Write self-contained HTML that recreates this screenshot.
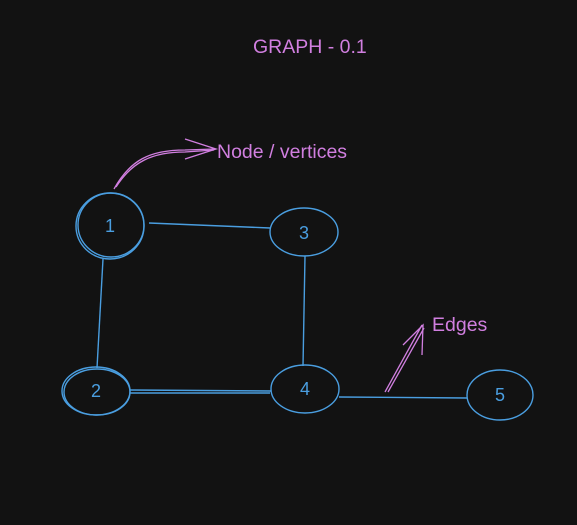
<!DOCTYPE html>
<html><head><style>
html,body{margin:0;padding:0;background:#121212;}
svg{display:block}
text{font-family:"Liberation Sans",sans-serif;}
</style></head><body>
<svg width="577" height="525" viewBox="0 0 577 525">
<rect width="577" height="525" fill="#121212"/>
<text x="253" y="53" fill="#d17fe0" font-size="19.5">GRAPH - 0.1</text>
<text x="217" y="158" fill="#d17fe0" font-size="19.5">Node / vertices</text>
<text x="432" y="331" fill="#d17fe0" font-size="19.5">Edges</text>
<g fill="none" stroke="#d17fe0" stroke-width="1.3">
<path d="M114 189 C130 160,150 150,185 150 L215 149"/>
<path d="M116 187 C132 162,152 152,185 152 L214 150"/>
<path d="M185 139 L216 149 L185 159"/>
<path d="M385 392 L422 325"/>
<path d="M388 392 L424 328"/>
<path d="M403 345 L423 325 L422 355"/>
</g>
<g fill="none" stroke="#4a9ee0" stroke-width="1.4">
<ellipse cx="110" cy="226" rx="34" ry="33"/>
<ellipse cx="111" cy="225" rx="33" ry="32"/>
<ellipse cx="304" cy="232" rx="34" ry="24"/>
<ellipse cx="96" cy="391" rx="34" ry="24"/>
<ellipse cx="97" cy="392" rx="33" ry="23"/>
<ellipse cx="305" cy="389" rx="34" ry="24"/>
<ellipse cx="500" cy="395" rx="33" ry="25"/>
<path d="M149 223 L270 228"/>
<path d="M103 259 L97 368"/>
<path d="M305 256 L303 366"/>
<path d="M130 390 L271 391"/>
<path d="M130 393 L270 393"/>
<path d="M339 397 L467 398"/>
</g>
<g fill="#4a9ee0" font-size="18" text-anchor="middle">
<text x="110" y="232">1</text>
<text x="304" y="239">3</text>
<text x="96" y="397">2</text>
<text x="305" y="395">4</text>
<text x="500" y="401">5</text>
</g>
</svg>
</body></html>
